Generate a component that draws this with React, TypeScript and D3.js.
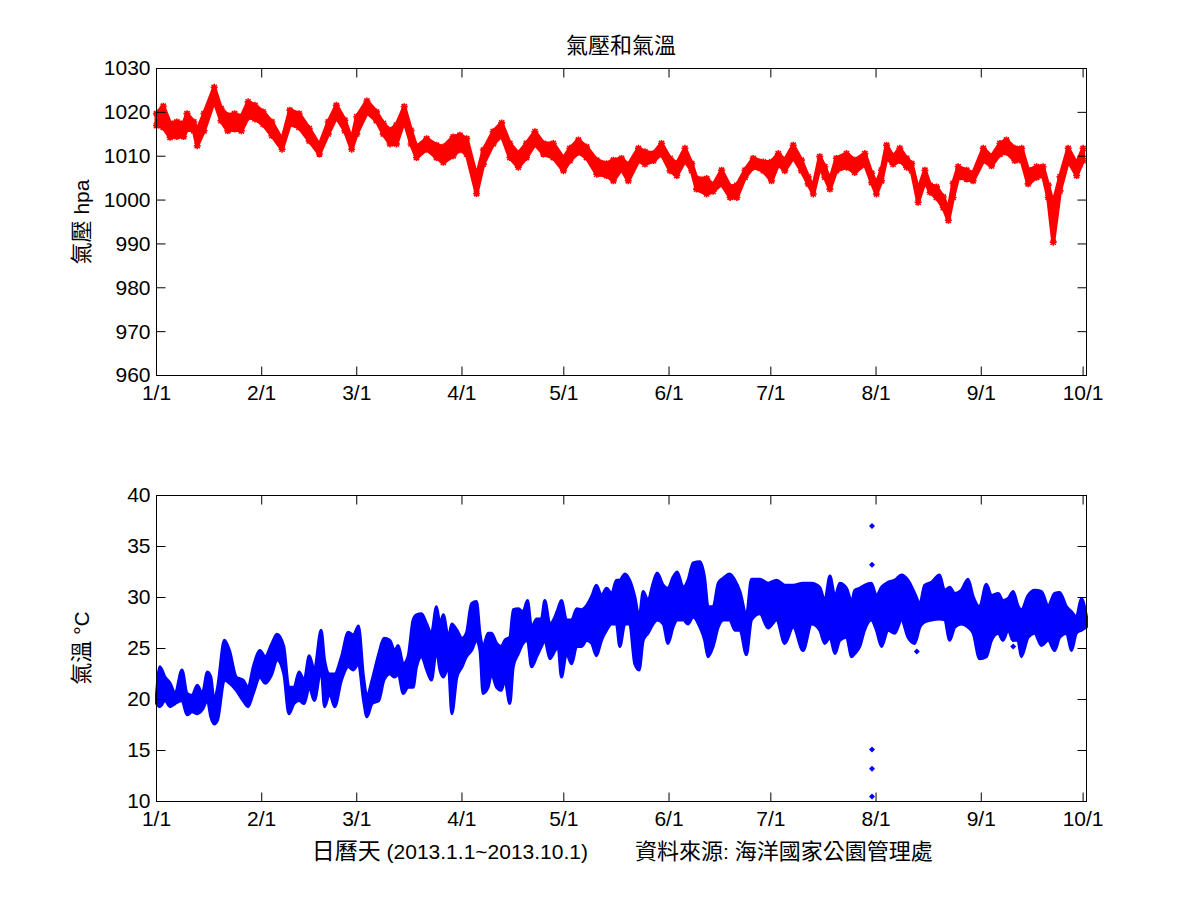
import * as d3 from 'd3'

// Pressure band (hPa): sample day (days since 1 Jan 2013), upper and lower envelope
const pressDays = [
  0, 2, 4, 6, 8, 9, 11, 12, 14, 17,
  19, 21, 23, 25, 27, 29, 31.4, 34, 37, 39.3,
  42, 45, 48, 50.6, 53, 55.5, 57.5, 59, 62, 64.8,
  66.8, 68.8, 70.7, 73, 75, 76.6, 79.6, 82.5, 84.5, 87.4,
  89.4, 91.4, 94.3, 96.3, 99.2, 101.7, 104.1, 106.6, 109, 111.5,
  114, 116.9, 119.9, 121.8, 124.3, 126.7, 129.7, 132.6, 134.6, 137,
  139, 142, 143.9, 146.4, 148.8, 151.3, 153.3, 155.7, 157.7, 159.1,
  162.1, 164, 166.5, 169, 171, 173.4, 175.8, 178.8, 181.2, 183.2,
  185.1, 187.6, 190, 192, 193.5, 195.4, 196.9, 198.4, 200.3, 203.3,
  205.7, 208.7, 210.7, 212.1, 213.6, 215.1, 217, 219, 221, 222.5,
  224.4, 226.4, 227.9, 229.8, 231.8, 233.3, 234.7, 236.2, 238.7, 240.6,
  243.6, 246, 248.5, 250.4, 252.9, 254.9, 256.8, 259.3, 261.2, 262.7,
  264.2, 266.2, 268.6, 271.1, 273,
]
const pressHi = [
  1019.7, 1021.4, 1017.5, 1017.8, 1017.5, 1019.7, 1017.8, 1015.9, 1019.7, 1025.7,
  1020.9, 1019.3, 1019.7, 1019.0, 1022.4, 1021.6, 1020.1, 1017.8, 1013.7, 1020.5,
  1019.7, 1016.3, 1012.5, 1017.8, 1021.6, 1018.2, 1013.7, 1019.0, 1022.6, 1020.1,
  1017.5, 1015.9, 1017.1, 1021.3, 1015.9, 1012.1, 1014.0, 1012.5, 1012.1, 1014.4,
  1014.8, 1014.0, 1005.3, 1011.4, 1015.6, 1017.6, 1012.9, 1010.6, 1012.9, 1015.6,
  1012.9, 1012.9, 1009.5, 1011.8, 1013.7, 1012.1, 1009.1, 1008.3, 1009.1, 1009.5,
  1008.0, 1011.8, 1011.0, 1010.6, 1012.9, 1009.5, 1008.3, 1011.8, 1008.3, 1004.9,
  1004.9, 1003.4, 1006.8, 1003.0, 1003.4, 1006.8, 1009.5, 1008.7, 1008.7, 1010.6,
  1009.1, 1012.5, 1009.1, 1005.3, 1003.0, 1009.9, 1007.6, 1004.5, 1009.5, 1010.6,
  1009.1, 1010.6, 1006.1, 1003.8, 1006.8, 1012.5, 1009.9, 1011.8, 1009.5, 1008.3,
  1002.3, 1006.8, 1003.4, 1003.0, 1000.7, 997.7, 1003.8, 1007.6, 1006.8, 1006.1,
  1011.8, 1009.9, 1012.9, 1013.7, 1011.8, 1011.8, 1006.8, 1007.6, 1007.6, 1003.4,
  999.2, 1005.3, 1011.8, 1008.3, 1011.8,
]
const pressLo = [
  1017.0, 1016.6, 1014.3, 1014.5, 1014.5, 1016.2, 1015.8, 1012.4, 1015.8, 1022.7,
  1018.1, 1015.8, 1016.2, 1015.8, 1018.9, 1018.5, 1017.3, 1014.7, 1011.6, 1017.3,
  1016.6, 1013.5, 1010.5, 1015.1, 1018.9, 1015.8, 1011.6, 1015.1, 1020.0, 1018.1,
  1015.1, 1012.8, 1012.8, 1018.1, 1012.8, 1009.7, 1011.6, 1009.7, 1008.6, 1010.1,
  1011.5, 1010.5, 1001.5, 1008.2, 1012.8, 1014.7, 1009.7, 1007.5, 1009.7, 1012.8,
  1010.5, 1009.7, 1006.7, 1009.0, 1010.9, 1009.7, 1005.9, 1005.6, 1004.4, 1007.1,
  1004.4, 1009.0, 1008.2, 1009.0, 1010.5, 1006.7, 1005.6, 1009.0, 1006.7, 1002.5,
  1001.4, 1002.0, 1003.7, 1000.6, 1000.6, 1005.2, 1007.5, 1006.7, 1004.4, 1008.2,
  1006.7, 1009.7, 1006.7, 1003.7, 1001.4, 1007.5, 1005.2, 1002.5, 1006.7, 1007.5,
  1006.3, 1008.2, 1004.0, 1001.4, 1004.4, 1009.7, 1008.2, 1009.0, 1007.5, 1006.7,
  999.5, 1004.4, 1001.8, 1000.6, 998.3, 995.4, 1000.6, 1005.2, 1004.8, 1004.4,
  1009.0, 1007.8, 1010.5, 1010.9, 1009.0, 1009.0, 1003.7, 1005.2, 1005.6, 1000.6,
  990.4, 1002.1, 1009.0, 1005.6, 1009.0,
]

// Temperature band (°C)
const tempDays = [
  0, 1, 2.5, 4, 5.5, 7.5, 9, 10.5, 12, 13.5,
  15, 16, 17, 18, 20, 21.5, 23.5, 25.5, 27, 28.5,
  30.5, 32, 34, 35.5, 37.5, 39, 40.5, 42, 43.5, 45,
  46.5, 48.5, 49.5, 51, 52.5, 54.5, 56.5, 58, 59.5, 61,
  62, 63.5, 65.5, 67, 68.7, 70.2, 71.2, 72.7, 74.1, 75.6,
  76.6, 78.1, 79.6, 81, 82.5, 83.5, 84.5, 86, 87, 88.5,
  90, 91.3, 92.8, 94.3, 95.3, 96.2, 97.7, 98.7, 100.2, 101.6,
  102.6, 104.1, 105.1, 106.6, 108, 109.3, 110.5, 112, 113.4, 114.4,
  115.9, 117.4, 118.3, 119.3, 120.8, 122.3, 123.8, 125.2, 126.7, 128.2,
  129.6, 131.1, 132.6, 134.1, 135.5, 136.5, 138, 139.4, 140.9, 142.2,
  143.4, 144.8, 146.3, 147.5, 149.3, 150.7, 152.2, 153.4, 155.2, 156.6,
  158.1, 160.1, 161.5, 162.5, 164, 165.5, 167, 168.9, 170.4, 171.9,
  173.8, 175.3, 177.8, 180.2, 182.7, 185.1, 187.6, 190.5, 193, 195.4,
  196.9, 198.4, 199.9, 201.3, 203.3, 204.8, 205.7, 207.2, 208.6, 210.6,
  212.1, 213.6, 215.5, 217.5, 219.5, 221.4, 223.4, 224.9, 226.3, 228.3,
  230.7, 232.2, 233.7, 235.2, 237.1, 239.1, 240.6, 242.5, 244.5, 246,
  248, 249.4, 250.9, 252.4, 253.8, 254.8, 256.8, 258.7, 260.7, 262.7,
  264.6, 266.1, 268.1, 269.6, 271, 272.5, 274,
]
const tempHi = [
  20.5, 23.2, 22.2, 21.6, 20.6, 22.9, 20.6, 20.4, 21.4, 20.6,
  22.7, 22.2, 19.9, 21.2, 25.8, 24.8, 22.2, 21.9, 21.2, 23.2,
  24.8, 24.2, 25.5, 26.4, 25.2, 21.2, 21.2, 22.7, 21.9, 24.3,
  22.9, 26.8, 23.9, 22.5, 22.5, 24.2, 26.6, 26.3, 27.2, 22.2,
  20.3, 21.9, 24.5, 26.0, 25.8, 24.8, 25.3, 23.5, 24.2, 27.8,
  28.3, 28.4, 27.4, 26.5, 29.1, 27.4, 28.3, 26.1, 27.4, 26.8,
  26.0, 26.5, 29.4, 29.6, 26.5, 25.2, 26.5, 26.5, 25.5, 25.2,
  25.8, 26.1, 28.8, 28.9, 28.6, 29.7, 27.1, 27.9, 27.9, 29.7,
  27.4, 28.1, 28.9, 29.7, 27.8, 27.8, 28.9, 28.8, 29.2, 30.1,
  31.2, 30.2, 30.9, 30.4, 31.7, 31.7, 32.3, 31.7, 30.1, 28.1,
  30.6, 29.7, 31.4, 32.4, 31.2, 30.9, 32.0, 32.5, 31.0, 31.7,
  33.4, 33.5, 31.9, 29.1, 29.1, 31.4, 31.9, 32.3, 31.7, 30.6,
  28.3, 31.8, 31.8, 31.4, 31.7, 31.2, 31.2, 31.4, 31.4, 31.0,
  29.7, 32.1, 30.1, 31.4, 30.9, 29.6, 30.7, 30.9, 31.2, 31.4,
  30.2, 31.0, 31.5, 31.7, 32.2, 31.7, 30.4, 29.4, 31.2, 31.5,
  32.2, 30.7, 31.0, 30.4, 30.7, 31.8, 30.1, 29.1, 31.3, 30.2,
  30.4, 29.7, 29.9, 30.6, 29.2, 28.8, 30.2, 30.7, 30.6, 29.2,
  30.4, 30.5, 29.1, 28.6, 28.1, 29.9, 28.1,
]
const tempLo = [
  19.6, 19.3, 19.9, 19.3, 19.6, 19.9, 18.5, 18.8, 18.6, 19.0,
  19.9, 18.3, 17.6, 18.0, 21.9, 21.6, 20.9, 19.9, 19.3, 20.6,
  22.2, 21.6, 22.5, 23.9, 22.5, 18.6, 19.6, 19.9, 19.6, 21.2,
  19.9, 22.9, 19.3, 20.6, 19.3, 21.9, 23.2, 22.9, 23.5, 19.9,
  18.3, 19.6, 19.9, 21.9, 22.5, 22.2, 22.5, 20.6, 21.2, 21.2,
  23.2, 24.2, 22.9, 21.9, 24.8, 22.9, 22.2, 23.2, 18.6, 22.2,
  23.2, 24.2, 24.8, 25.8, 24.8, 20.6, 21.2, 22.5, 21.2, 20.9,
  21.9, 19.6, 23.2, 24.5, 25.5, 25.8, 23.2, 24.2, 25.2, 25.8,
  24.0, 24.8, 25.2, 22.2, 24.5, 23.5, 25.2, 25.2, 25.8, 25.5,
  24.3, 25.8, 26.8, 27.4, 27.4, 25.2, 27.4, 27.4, 23.5, 22.9,
  25.8, 26.5, 27.4, 27.8, 27.4, 25.5, 27.1, 27.8, 27.8, 27.4,
  28.1, 27.1, 25.8, 24.2, 25.2, 27.1, 27.8, 27.8, 26.8, 26.8,
  24.4, 27.8, 28.4, 27.0, 27.8, 25.5, 27.1, 24.8, 27.4, 26.8,
  25.5, 26.1, 24.5, 25.8, 26.1, 24.2, 24.5, 25.2, 26.8, 27.8,
  26.8, 25.2, 26.8, 26.5, 27.8, 26.1, 25.5, 27.1, 27.6, 27.8,
  27.9, 27.8, 25.8, 27.1, 27.4, 27.1, 26.5, 24.0, 24.2, 25.8,
  26.5, 25.8, 26.8, 25.8, 25.8, 24.2, 26.1, 26.5, 25.3, 25.8,
  24.8, 26.1, 26.5, 24.8, 26.5, 26.8, 27.1,
]
// isolated temperature readings away from the band
const tempOutDays = [210.8, 210.8, 210.8, 210.8, 210.8, 224, 252.4, 252.4]
const tempOutVals = [37.0, 33.2, 15.1, 13.2, 10.5, 24.7, 25.9, 25.2]

const monthDays = [0, 31, 59, 90, 120, 151, 181, 212, 243, 273]
const monthLabels = ['1/1', '2/1', '3/1', '4/1', '5/1', '6/1', '7/1', '8/1', '9/1', '10/1']
const pressTicks = [960, 970, 980, 990, 1000, 1010, 1020, 1030]
const tempTicks = [10, 15, 20, 25, 30, 35, 40]

const FONT = '"Liberation Sans", Arial, "Noto Sans CJK TC", sans-serif'
const CJK = '"Noto Sans CJK TC", "Liberation Sans", sans-serif'

const left = 156.5, right = 1086.5
const x = d3.scaleLinear().domain([0, 274]).range([left, right])
const yP = d3.scaleLinear().domain([960, 1030]).range([375.5, 68.5])
const yT = d3.scaleLinear().domain([10, 40]).range([801.5, 495.5])

type Band = { d: number; hi: number; lo: number }

function Frame({ y, ticks }: { y: d3.ScaleLinear<number, number>; ticks: number[] }) {
  const [bottom, top] = y.range()
  const tl = 9
  return (
    <g stroke="#000" strokeWidth={1} fill="none">
      <rect x={left} y={top} width={right - left} height={bottom - top} />
      {monthDays.map((d) => (
        <g key={'x' + d}>
          <line x1={x(d)} x2={x(d)} y1={bottom} y2={bottom - tl} />
          <line x1={x(d)} x2={x(d)} y1={top} y2={top + tl} />
        </g>
      ))}
      {ticks.map((t) => (
        <g key={'y' + t}>
          <line x1={left} x2={left + tl} y1={y(t)} y2={y(t)} />
          <line x1={right} x2={right - tl} y1={y(t)} y2={y(t)} />
        </g>
      ))}
      <g stroke="none" fill="#000" fontFamily={FONT} fontSize={21}>
        {monthDays.map((d, i) => (
          <text key={'xl' + d} x={x(d)} y={bottom + 24} textAnchor="middle">{monthLabels[i]}</text>
        ))}
        {ticks.map((t) => (
          <text key={'yl' + t} x={left - 6} y={y(t)} dy="0.33em" textAnchor="end">{t}</text>
        ))}
      </g>
    </g>
  )
}

const star = 'M-3.5,0H3.5M0,-3.5V3.5M-2.6,-2.6L2.6,2.6M-2.6,2.6L2.6,-2.6'

export default function App() {
  const press: Band[] = pressDays.map((d, i) => ({ d, hi: pressHi[i], lo: pressLo[i] }))
  const temp: Band[] = tempDays.map((d, i) => ({ d, hi: tempHi[i], lo: tempLo[i] }))

  const pArea = d3.area<Band>().x((p) => x(p.d)).y0((p) => yP(p.lo)).y1((p) => yP(p.hi))
  const tArea = d3.area<Band>().curve(d3.curveMonotoneX).x((p) => x(p.d)).y0((p) => yT(p.lo)).y1((p) => yT(p.hi))

  return (
    <svg width={1201} height={901} style={{ position: 'absolute', left: 0, top: 0, background: '#fff' }}>
      <rect width={1201} height={901} fill="#fff" />
      <text x={621} y={53} textAnchor="middle" fontFamily={CJK} fontSize={22}>氣壓和氣溫</text>

      {/* pressure */}
      <path d={pArea(press) ?? ''} fill="#ff0000" stroke="#ff0000" strokeWidth={4} strokeLinejoin="round" />
      <g stroke="#ff0000" strokeWidth={1.6} fill="none">
        {press.map((p, i) => (
          <g key={i}>
            <path d={star} transform={`translate(${x(p.d)},${yP(p.hi)})`} />
            <path d={star} transform={`translate(${x(p.d)},${yP(p.lo)})`} />
          </g>
        ))}
      </g>
      <Frame y={yP} ticks={pressTicks} />
      <text transform={`translate(89,222) rotate(-90)`} textAnchor="middle" fontFamily={FONT} fontSize={21}>
        <tspan fontSize={22}>氣壓</tspan> hpa
      </text>

      {/* temperature */}
      <path d={tArea(temp) ?? ''} fill="#0000ff" stroke="#0000ff" strokeWidth={3} strokeLinejoin="round" />
      <g fill="#0000ff">
        {tempOutDays.map((d, i) => (
          <path key={i} d="M0,-3L3,0L0,3L-3,0Z" transform={`translate(${x(d)},${yT(tempOutVals[i])})`} />
        ))}
      </g>
      <Frame y={yT} ticks={tempTicks} />
      <text transform={`translate(89,648) rotate(-90)`} textAnchor="middle" fontFamily={FONT} fontSize={21}>
        <tspan fontSize={22}>氣溫</tspan> °C
      </text>

      <text x={588} y={859} textAnchor="end" fontFamily={FONT} fontSize={21}>
        <tspan fontSize={23}>日曆天</tspan> (2013.1.1~2013.10.1)
      </text>
      <text x={635} y={859} textAnchor="start" fontFamily={FONT} fontSize={21}>
        <tspan fontSize={22}>資料來源</tspan>: <tspan fontSize={22}>海洋國家公園管理處</tspan>
      </text>
    </svg>
  )
}
